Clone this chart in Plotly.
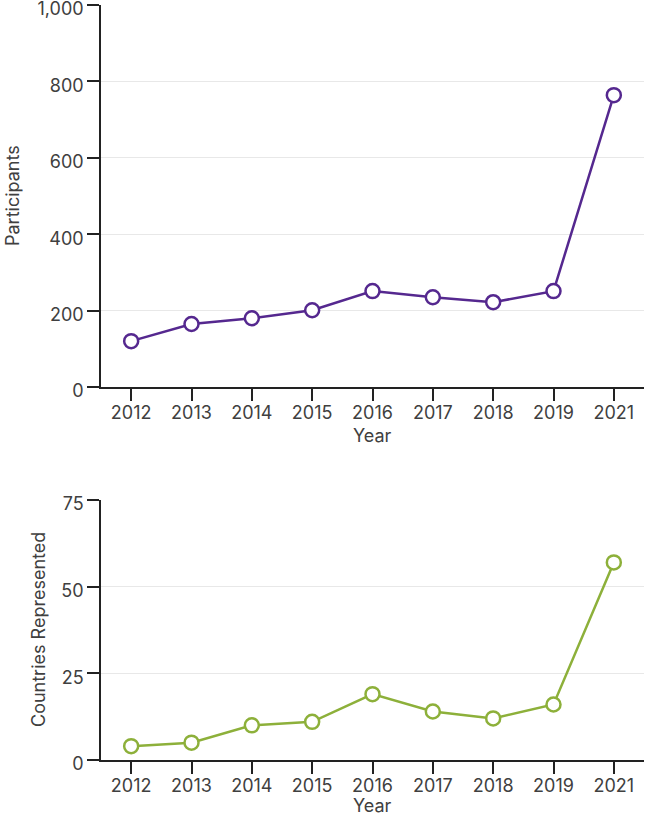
import plotly.graph_objects as go
from plotly.subplots import make_subplots

years = ["2012", "2013", "2014", "2015", "2016", "2017", "2018", "2019", "2021"]
participants = [120, 165, 180, 201, 251, 235, 222, 251, 764]
countries = [4, 5, 10, 11, 19, 14, 12, 16, 57]

purple = "#55288f"
green = "#8db03a"
axis_col = "#222222"
text_col = "#404040"
grid_col = "#e8e8e8"
font_family = "Inter, Roboto, Arial, sans-serif"
fs = 18

fig = make_subplots(rows=2, cols=1)

fig.add_trace(go.Scatter(
    x=years, y=participants, mode="lines+markers",
    line=dict(color=purple, width=2.5),
    marker=dict(symbol="circle", size=14, color="white", line=dict(color=purple, width=2.5)),
    showlegend=False, cliponaxis=False), row=1, col=1)

fig.add_trace(go.Scatter(
    x=years, y=countries, mode="lines+markers",
    line=dict(color=green, width=2.5),
    marker=dict(symbol="circle", size=14, color="white", line=dict(color=green, width=2.5)),
    showlegend=False, cliponaxis=False), row=2, col=1)

W, H = 645, 817
ml, mr, mt, mb = 101, 1, 5, 57
ph = H - mt - mb
pw = W - ml - mr

def yfrac(px):
    return (H - mb - px) / ph

def xfrac(px):
    return (px - ml) / pw

xcommon = dict(
    type="category", range=[-0.5, 8.5], showline=True, linecolor=axis_col, linewidth=1.5,
    ticks="outside", ticklen=12, tickwidth=1.5, tickcolor=axis_col,
    showgrid=False, zeroline=False, automargin=False, ticklabeloverflow="allow",
    ticklabelstandoff=-3,
    tickfont=dict(size=fs, color=text_col, family=font_family),
)
ycommon = dict(
    showline=True, linecolor=axis_col, linewidth=1.5,
    ticks="outside", ticklen=12, tickwidth=1.5, tickcolor=axis_col,
    showgrid=True, gridcolor=grid_col, gridwidth=1.2, zeroline=False, automargin=False,
    ticklabeloverflow="allow", ticklabelshift=4,
    tickfont=dict(size=fs, color=text_col, family=font_family),
)

fig.update_xaxes(**xcommon)
fig.update_yaxes(**ycommon)

title_font = dict(size=fs, color=text_col, family=font_family)

fig.update_layout(
    width=W, height=H,
    margin=dict(l=ml, r=mr, t=mt, b=mb),
    plot_bgcolor="white", paper_bgcolor="white",
    font=dict(family=font_family, color=text_col),
    xaxis=dict(domain=[0, 1]),
    xaxis2=dict(domain=[0, 1]),
    yaxis=dict(domain=[yfrac(387), 1.0], range=[0, 1000], tickvals=[0, 200, 400, 600, 800, 1000],
               tickformat=","),
    yaxis2=dict(domain=[0, yfrac(500)], range=[0, 75], tickvals=[0, 25, 50, 75]),
    annotations=[
        dict(text="Year", xref="paper", yref="paper", x=0.5, y=yfrac(435),
             xanchor="center", yanchor="middle", showarrow=False, font=title_font),
        dict(text="Year", xref="paper", yref="paper", x=0.5, y=yfrac(806),
             xanchor="center", yanchor="middle", showarrow=False, font=title_font),
        dict(text="Participants", xref="paper", yref="paper", x=xfrac(12), y=yfrac(196),
             xanchor="center", yanchor="middle", textangle=-90, showarrow=False, font=title_font),
        dict(text="Countries Represented", xref="paper", yref="paper", x=xfrac(38), y=yfrac(630),
             xanchor="center", yanchor="middle", textangle=-90, showarrow=False, font=title_font),
    ],
)

fig.write_html("out.html", config={"displayModeBar": False},
               post_script="document.body.style.margin='0';document.body.style.overflow='hidden';")
